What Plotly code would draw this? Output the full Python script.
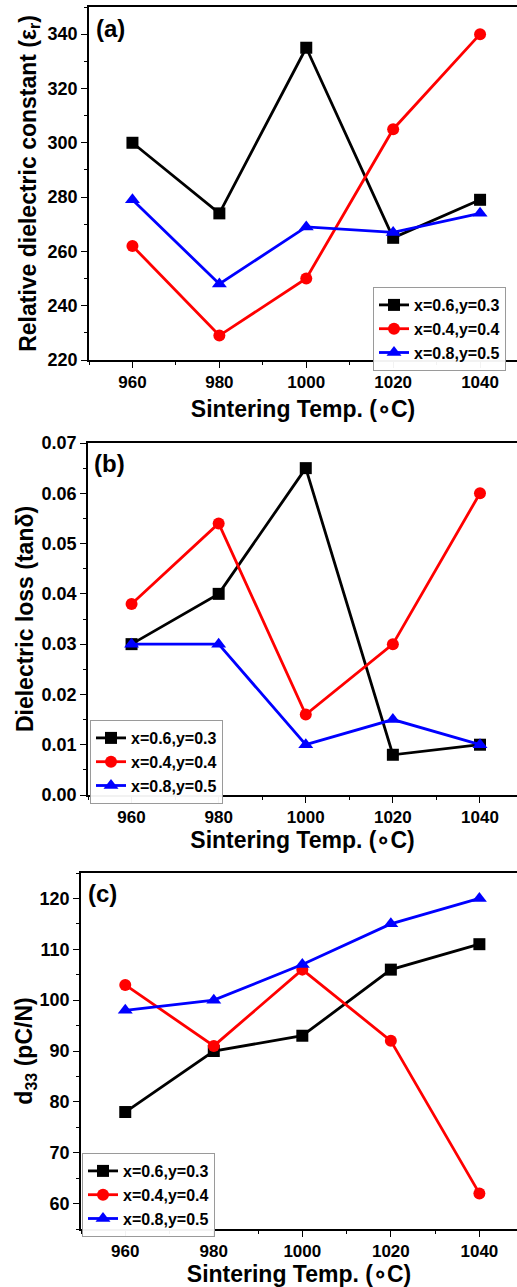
import plotly.graph_objects as go

temps = [960, 980, 1000, 1020, 1040]
names = ["x=0.6,y=0.3", "x=0.4,y=0.4", "x=0.8,y=0.5"]

# (a) relative dielectric constant
eps_a = [300, 274, 335, 265, 279]
eps_b = [262, 229, 250, 305, 340]
eps_c = [279, 248, 269, 267, 274]

# (b) dielectric loss
tan_a = [0.030, 0.040, 0.065, 0.008, 0.010]
tan_b = [0.038, 0.054, 0.016, 0.030, 0.060]
tan_c = [0.030, 0.030, 0.010, 0.015, 0.010]

# (c) d33
d33_a = [78, 90, 93, 106, 111]
d33_b = [103, 91, 106, 92, 62]
d33_c = [98, 100, 107, 115, 120]

W, H = 517, 1287
colors = ["#000000", "#ff0000", "#0000ff"]
symbols = ["square", "circle", "triangle-up"]
FONT = "Liberation Sans"

fig = go.Figure()

panels = [
    (1, [eps_a, eps_b, eps_c], "legend"),
    (2, [tan_a, tan_b, tan_c], "legend2"),
    (3, [d33_a, d33_b, d33_c], "legend3"),
]
for idx, series, leg in panels:
    sfx = "" if idx == 1 else str(idx)
    for s, nm, c, sym in zip(series, names, colors, symbols):
        fig.add_trace(go.Scatter(
            x=temps, y=s, name=nm, mode="lines+markers",
            line=dict(color=c, width=2.8),
            marker=dict(symbol=sym, size=12 if sym != "triangle-up" else 13, color=c),
            xaxis="x" + sfx, yaxis="y" + sfx, legend=leg,
        ))

def px_x(p):
    return p / W

def px_y(p):
    return 1 - p / H

xtickfont = dict(family=FONT, size=17, color="black", weight="bold")
ytickfont = dict(family=FONT, size=18, color="black", weight="bold")
titlefont = dict(family=FONT, size=23, color="black", weight="bold")

XTITLE = "Sintering Temp. (∘C)"

def xax(left, anchor, standoff):
    return dict(
        domain=[px_x(left), 1.0], range=[950, 1048.5], anchor=anchor,
        dtick=20, tick0=960, showline=True, linecolor="black", linewidth=1.5,
        mirror=True, ticks="outside", ticklen=6, tickwidth=1.3, tickcolor="black",
        minor=dict(dtick=10, tick0=950, ticks="outside", ticklen=3, tickcolor="black"),
        showgrid=False, zeroline=False, tickfont=xtickfont, automargin=False,
        title=dict(text=XTITLE, font=titlefont, standoff=standoff),
    )

def yax(top, bottom, rng, dtick, mdtick, title, anchor, fmt=None, standoff=10):
    d = dict(
        domain=[px_y(bottom), px_y(top)], range=rng, anchor=anchor,
        dtick=dtick, showline=True, linecolor="black", linewidth=1.5,
        ticks="outside", ticklen=6, tickwidth=1.3, tickcolor="black",
        minor=dict(dtick=mdtick, ticks="outside", ticklen=3, tickcolor="black"),
        showgrid=False, zeroline=False, tickfont=ytickfont, automargin=False,
        title=dict(text=title, font=titlefont, standoff=standoff),
    )
    if fmt:
        d["tickformat"] = fmt
    return d

legfont = dict(family=FONT, size=16, color="black", weight="bold")

def leg(x, y):
    return dict(x=px_x(x), y=px_y(y), xanchor="left", yanchor="top",
                bgcolor="rgba(255,255,255,0.95)", bordercolor="#9a9a9a", borderwidth=1,
                font=legfont, tracegroupgap=0, itemwidth=30)

fig.update_layout(
    width=W, height=H, margin=dict(l=0, r=0, t=0, b=0, pad=0, autoexpand=False),
    paper_bgcolor="white", plot_bgcolor="white",
    xaxis=xax(89, "y", 10),
    yaxis=yax(7, 360, [220, 350], 20, 10, "Relative dielectric constant (ε<sub>r</sub>)", "x", standoff=5),
    xaxis2=xax(88, "y2", 2),
    yaxis2=yax(443, 795, [0, 0.07], 0.01, 0.005, "Dielectric loss (tanδ)", "x2", fmt=".2f", standoff=2),
    xaxis3=xax(81, "y3", 2),
    yaxis3=yax(873, 1229, [55, 125], 10, 5, "d<sub>33</sub> (pC/N)", "x3", standoff=0),
    legend=leg(373, 287),
    legend2=leg(90, 720),
    legend3=leg(82, 1153),
    showlegend=True,
)

for lab, x, y in [("(a)", 94, 28), ("(b)", 92, 463), ("(c)", 86, 893)]:
    fig.add_annotation(text=lab, x=px_x(x), y=px_y(y), xref="paper", yref="paper",
                       xanchor="left", yanchor="middle", showarrow=False,
                       font=dict(family=FONT, size=24, color="black", weight="bold"))

fig.write_html(
    "out.html",
    config={"displayModeBar": False},
    post_script="document.body.style.margin='0px';document.body.style.overflow='hidden';",
)
